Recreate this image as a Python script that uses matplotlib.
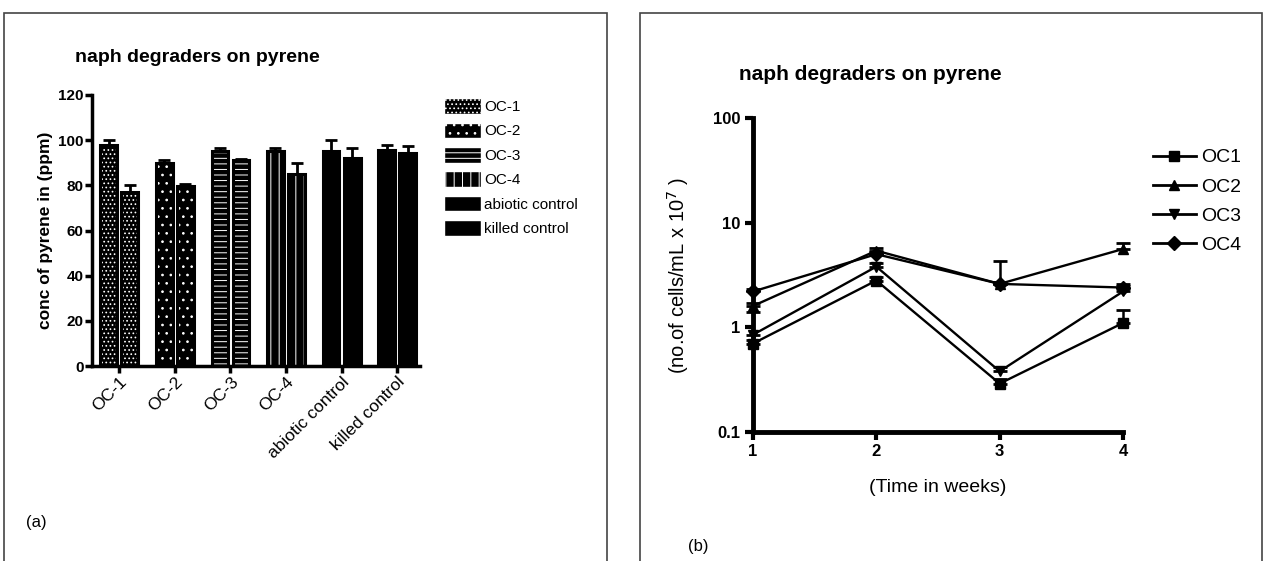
import matplotlib
matplotlib.use("Agg")
import matplotlib.pyplot as plt
from matplotlib.patches import Rectangle, Patch
from matplotlib.lines import Line2D

plt.rcParams["font.family"] = ["Liberation Sans", "DejaVu Sans"]
plt.rcParams["hatch.linewidth"] = 0.7

# panel (a): bar chart
groups = ["OC-1", "OC-2", "OC-3", "OC-4", "abiotic control", "killed control"]
bar1 = [98, 90, 95, 95, 95, 95.5]
err1 = [2, 1, 1.5, 1.5, 5, 2.5]
bar2 = [77, 79.5, 91, 85, 92, 94.5]
err2 = [3, 1, 0.5, 5, 4.5, 3]
hatches = ["....", "..", "---", "||", "", ""]

# panel (b): log line chart
weeks = [1, 2, 3, 4]
series = ["OC1", "OC2", "OC3", "OC4"]
cells = {
    "OC1": [0.70, 2.8, 0.29, 1.1],
    "OC2": [1.6, 5.4, 2.6, 5.6],
    "OC3": [0.85, 3.8, 0.38, 2.2],
    "OC4": [2.2, 5.0, 2.6, 2.4],
}
cells_err = {
    "OC1": [0.05, 0.2, 0.03, 0.35],
    "OC2": [0.1, 0.3, 1.7, 0.8],
    "OC3": [0.55, 0.3, 0.04, 0.4],
    "OC4": [0.1, 0.3, 0.1, 0.1],
}
markers = {"OC1": "s", "OC2": "^", "OC3": "v", "OC4": "D"}

W, H = 1265, 561
fig = plt.figure(figsize=(W / 100, H / 100), dpi=100)


def box(x0, y0, x1, y1):
    return [x0 / W, 1 - y1 / H, (x1 - x0) / W, (y1 - y0) / H]


# panel frames
for x0, x1 in [(4, 607), (640, 1262)]:
    fig.patches.append(Rectangle((x0 / W, -0.01), (x1 - x0) / W, 1 - 13 / H + 0.01,
                                 transform=fig.transFigure, fill=False,
                                 edgecolor="#444444", linewidth=1.2))

# ---------- (a) ----------
ax = fig.add_axes(box(92, 95, 420, 366))
x = list(range(len(groups)))
off, bw = 0.19, 0.30
for i in x:
    for xx, v, e in [(i - off, bar1[i], err1[i]), (i + off, bar2[i], err2[i])]:
        ax.bar(xx, v, width=bw, color="black", edgecolor="white", hatch=hatches[i],
               linewidth=0, zorder=2)
        ax.bar(xx, v, width=bw, fill=False, edgecolor="black", linewidth=2.2, zorder=3)
        ax.errorbar(xx, v, yerr=[[0], [e]], fmt="none", ecolor="black",
                    elinewidth=2, capsize=4, capthick=2, zorder=1)
ax.set_xlim(-0.49, 5.41)
ax.set_ylim(0, 120)
ax.set_yticks(range(0, 121, 20))
ax.set_xticks(x)
ax.set_xticklabels(groups, rotation=45, ha="right", rotation_mode="anchor",
                   fontsize=12.5)
for lab in ax.get_yticklabels():
    lab.set_fontsize(11)
    lab.set_fontweight("bold")
for s in ["top", "right"]:
    ax.spines[s].set_visible(False)
for s in ["left", "bottom"]:
    ax.spines[s].set_linewidth(2.5)
ax.tick_params(width=2.5, length=5, direction="out", pad=1)
ax.set_ylabel("conc of pyrene in (ppm)", fontsize=12.5, fontweight="bold", labelpad=4)
fig.text(197 / W, 1 - 57 / H, "naph degraders on pyrene", ha="center", va="center",
         fontsize=14, fontweight="bold")

handles = [Patch(facecolor="black", edgecolor="white", hatch=h) for h in hatches]
leg = fig.legend(handles, groups, loc="upper left", bbox_to_anchor=(438 / W, 1 - 92 / H),
                 frameon=False, fontsize=11, handlelength=2.4, handleheight=1.2,
                 labelspacing=0.55, handletextpad=0.2, borderaxespad=0)
fig.text(26 / W, 1 - 523 / H, "(a)", fontsize=12, va="center")

# ---------- (b) ----------
bx = fig.add_axes(box(753, 118, 1123, 432))
for name in series:
    bx.errorbar(weeks, cells[name], yerr=[[0] * 4, cells_err[name]], color="black",
                marker=markers[name], markersize=7, linewidth=1.7, elinewidth=1.8,
                capsize=5, capthick=2, label=name, clip_on=False, zorder=3)
bx.set_yscale("log")
bx.set_ylim(0.1, 100)
bx.set_xlim(1, 4)
bx.set_yticks([0.1, 1, 10, 100])
bx.set_yticklabels(["0.1", "1", "10", "100"])
bx.minorticks_off()
bx.set_xticks(weeks)
for lab in bx.get_xticklabels() + bx.get_yticklabels():
    lab.set_fontsize(12)
    lab.set_fontweight("bold")
for s in ["top", "right"]:
    bx.spines[s].set_visible(False)
for s in ["left", "bottom"]:
    bx.spines[s].set_linewidth(3.5)
bx.tick_params(width=3, length=6, direction="out", pad=3)
bx.set_xlabel("(Time in weeks)", fontsize=14, labelpad=14)
bx.set_ylabel("(no.of cells/mL x 10$^7$ )", fontsize=14.5, labelpad=16)
fig.text(870 / W, 1 - 75 / H, "naph degraders on pyrene", ha="center", va="center",
         fontsize=15, fontweight="bold")

lh = [Line2D([0], [0], color="black", marker=markers[n], markersize=7, linewidth=2)
      for n in series]
fig.legend(lh, series, loc="upper left", bbox_to_anchor=(1145 / W, 1 - 141 / H),
           frameon=False, fontsize=14, handlelength=2.2, labelspacing=0.6,
           handletextpad=0.3, borderaxespad=0)
fig.text(688 / W, 1 - 547 / H, "(b)", fontsize=12, va="center")

fig.savefig("out.png", dpi=100)
